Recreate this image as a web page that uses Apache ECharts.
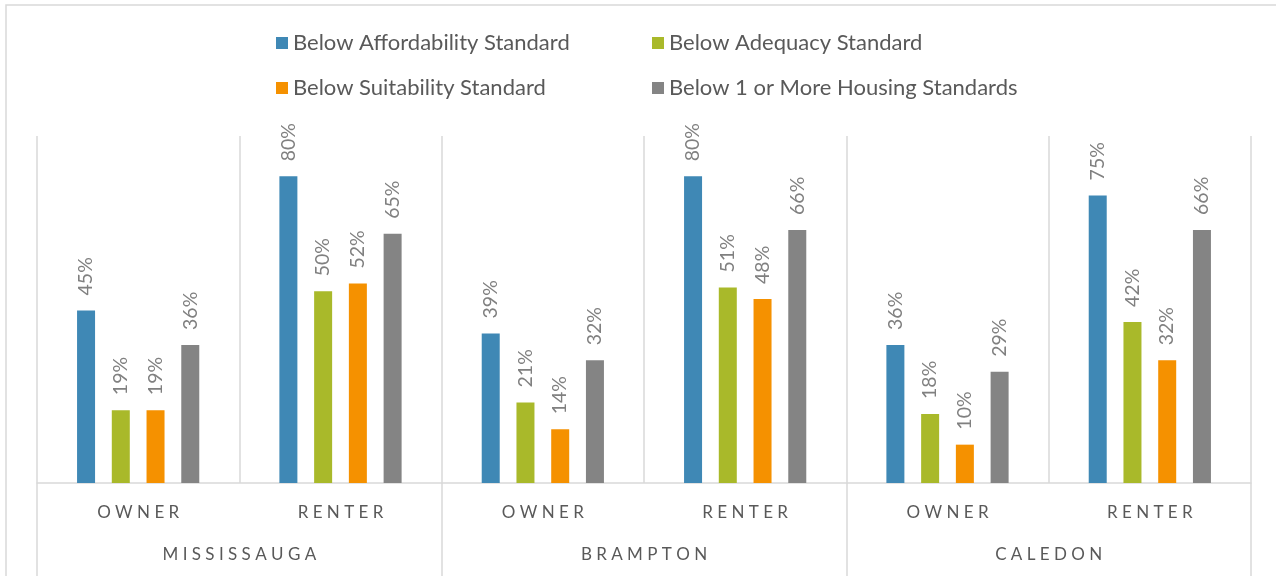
<!DOCTYPE html>
<html>
<head>
<meta charset="utf-8">
<script src="https://cdn.jsdelivr.net/npm/echarts@6/dist/echarts.min.js"></script>
<style>
  html, body { margin: 0; padding: 0; background: #fff; }
  #chart { width: 1276px; height: 576px; }
</style>
</head>
<body>
<div id="chart"></div>
<script>
// categories (tenure within each municipality)
const tenures = ['OWNER', 'RENTER', 'OWNER', 'RENTER', 'OWNER', 'RENTER']
const cities = ['MISSISSAUGA', 'BRAMPTON', 'CALEDON']

// series values, percent
const affordability = [45, 80, 39, 80, 36, 75]
const adequacy = [19, 50, 21, 51, 18, 42]
const suitability = [19, 52, 14, 48, 10, 32]
const anyStandard = [36, 65, 32, 66, 29, 66]

const names = [
  'Below Affordability Standard',
  'Below Adequacy Standard',
  'Below Suitability Standard',
  'Below 1 or More Housing Standards'
]
const colors = ['#3F88B5', '#A9B92A', '#F59100', '#848484']
const font = 'Lato'
const lineColor = '#D9D9D9'

function spaced(s) {
  return s.split('').join(' ')
}

function makeSeries(name, data) {
  return {
    name: name,
    type: 'bar',
    data: data,
    barWidth: 18,
    barGap: '93%',
    label: {
      show: true,
      position: 'top',
      rotate: 90,
      align: 'left',
      verticalAlign: 'middle',
      distance: 15,
      formatter: '{c}%',
      color: '#808080',
      fontFamily: font,
      fontSize: 19.5
    }
  }
}

const legendBase = {
  orient: 'vertical',
  top: 31,
  padding: 0,
  icon: 'rect',
  itemWidth: 12,
  itemHeight: 12,
  itemGap: 21,
  textStyle: { color: '#595959', fontFamily: font, fontSize: 22, lineHeight: 24 }
}

const chart = echarts.init(document.getElementById('chart'))
chart.setOption({
  animation: false,
  color: colors,
  graphic: [{
    type: 'rect',
    shape: { x: 6, y: 5, width: 1300, height: 600 },
    style: { fill: 'none', stroke: lineColor, lineWidth: 1.5 },
    silent: true
  }],
  legend: [
    Object.assign({}, legendBase, { left: 276, data: [names[0], names[2]] }),
    Object.assign({}, legendBase, { left: 652, data: [names[1], names[3]] })
  ],
  grid: { left: 37, right: 25, top: 136, bottom: 93 },
  xAxis: [{
    type: 'category',
    data: tenures,
    position: 'bottom',
    axisLine: { lineStyle: { color: lineColor, width: 1.5 } },
    axisTick: { show: false },
    splitLine: { show: true, lineStyle: { color: lineColor, width: 1.5 } },
    axisLabel: {
      margin: 21,
      color: '#595959',
      fontFamily: font,
      fontSize: 17,
      formatter: spaced
    }
  }, {
    type: 'category',
    data: cities,
    position: 'bottom',
    axisLine: { show: false },
    axisTick: { show: true, length: 95, lineStyle: { color: lineColor, width: 1.5 } },
    splitLine: { show: false },
    axisLabel: {
      margin: 63,
      color: '#595959',
      fontFamily: font,
      fontSize: 17,
      formatter: spaced
    }
  }],
  yAxis: {
    type: 'value',
    min: 0,
    max: 90.5,
    show: false,
    splitLine: { show: false }
  },
  series: [
    makeSeries(names[0], affordability),
    makeSeries(names[1], adequacy),
    makeSeries(names[2], suitability),
    makeSeries(names[3], anyStandard)
  ]
})
</script>
</body>
</html>
